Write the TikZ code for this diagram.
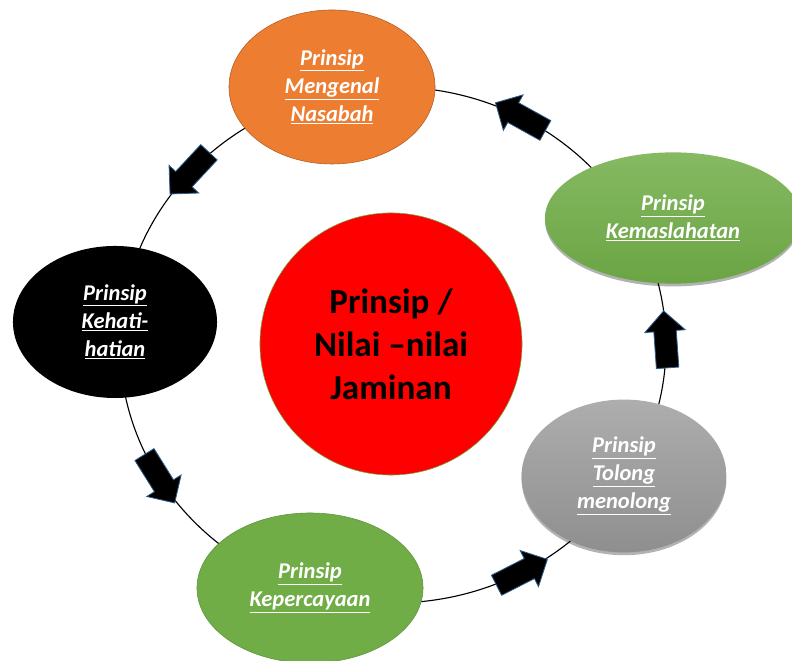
\documentclass[tikz,border=0pt]{standalone}
\usepackage{fontspec}
\setmainfont{Carlito}
\usetikzlibrary{shapes.geometric,shapes.arrows,positioning,shadows,calc}

\definecolor{oranye}{HTML}{ED7D31}
\definecolor{hijau}{HTML}{70AD47}
\definecolor{birutua}{HTML}{2E5A86}

\begin{document}
\begin{tikzpicture}[x=0.025cm, y=0.025cm,
    prinsip/.style={ellipse, inner sep=0pt, align=center, text=white,
        font=\fontsize{16}{20}\selectfont\bfseries\itshape},
    bayang/.style={drop shadow={shadow xshift=0pt, shadow yshift=-2pt, opacity=0.3, fill=black}},
    panah/.style={single arrow, fill=black, draw=birutua, line width=0.6pt,
        inner xsep=0pt, inner ysep=0.27cm,
        minimum width=1cm, minimum height=1.425cm, single arrow head extend=0.225cm}]
    \useasboundingbox (0,0) rectangle (792,661);

    % Ring
    \coordinate (ring) at (393,316);
    \draw [line width=0.8pt] (ring) ellipse [x radius=273, y radius=258];

    % Center circle
    \node [circle, fill=red, draw=hijau, minimum size=6.55cm, inner sep=0pt, align=center,
        font=\fontsize{25}{30.5}\selectfont\bfseries] (pusat) at (391,317)
        {Prinsip /\\Nilai –nilai\\Jaminan};

    % Principles
    \node [prinsip, fill=oranye, draw=oranye!75!black, minimum width=5.15cm, minimum height=3.85cm]
        (kenal) at (332,574) {\underline{Prinsip}\\\underline{Mengenal}\\\underline{Nasabah}};
    \node [prinsip, fill=black, minimum width=5.1cm, minimum height=3.8cm]
        (hati) at (115,339) {\underline{Prinsip}\\\underline{Kehati-}\\\underline{hatian}};
    \node [prinsip, fill=hijau, draw=hijau!85!black, minimum width=5.65cm, minimum height=3.75cm]
        (percaya) at (310,73) {\underline{Prinsip}\\\underline{Kepercayaan}};
    \node [prinsip, bayang, top color=black!32, bottom color=black!44, minimum width=5.12cm, minimum height=3.82cm]
        (tolong) at (624,185) {\underline{Prinsip}\\\underline{Tolong}\\\underline{menolong}};
    \node [prinsip, bayang, top color=hijau!85!white, bottom color=hijau!95!black, minimum width=6.4cm, minimum height=3.28cm]
        (maslahat) at (673,443) {\underline{Prinsip}\\\underline{Kemaslahatan}};

    % Arrows along the ring
    \foreach \t/\rot/\nama in {137/227/p1, 210/302/p2, 297/27/p3, 0/94/p4, 61/151/p5} {
        \node [panah, rotate=\rot] (\nama) at ([shift={(\t:273 and 258)}]ring) {};
    }
\end{tikzpicture}
\end{document}
